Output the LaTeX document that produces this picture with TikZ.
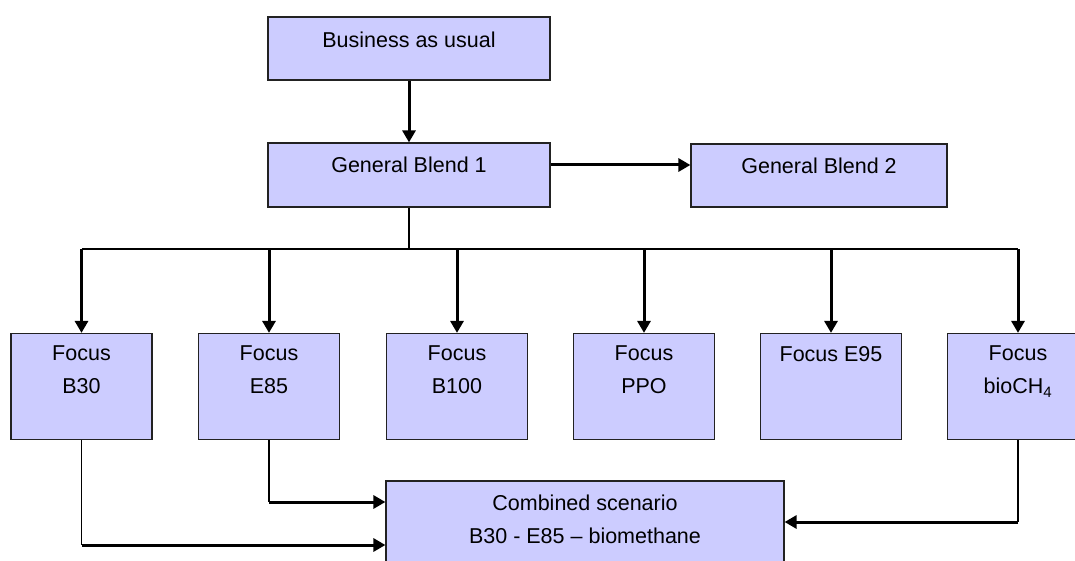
\documentclass[tikz,border=0pt]{standalone}
\usepackage{fontspec}
\setmainfont{Liberation Sans}
\usetikzlibrary{arrows.meta,calc}
\definecolor{boxfill}{HTML}{CCCCFF}
\definecolor{edgec}{HTML}{222222}
\begin{document}
\begin{tikzpicture}[x=1pt,y=-1pt,
  box/.style={draw=edgec,line width=1.2pt,fill=boxfill,inner sep=0pt},
  wide/.style={box,minimum width=282pt,minimum height=63pt},
  focusbox/.style={box,minimum width=141pt,minimum height=106pt},
  txt/.style={anchor=north,inner sep=0pt,align=center,font=\fontsize{21.5}{33}\selectfont},
  thinline/.style={line width=1.1pt},
  arr/.style={line width=3pt,-{Triangle[length=12pt,width=13pt]}}
]
\useasboundingbox (0,0) rectangle (1075,561);
% boxes
\node[wide] (bau) at (409,48.5) {};
\node[wide,minimum height=64pt] (gb1) at (409,175) {};
\node[box,minimum width=256pt,minimum height=63pt] (gb2) at (819,175.5) {};
\node[focusbox] (b30) at (81.5,386.5) {};
\node[focusbox] (e85) at (269,386.5) {};
\node[focusbox] (b100) at (457,386.5) {};
\node[focusbox] (ppo) at (644,386.5) {};
\node[focusbox] (e95) at (831,386.5) {};
\node[focusbox] (bio) at (1018,386.5) {};
\node[box,minimum width=398pt,minimum height=100pt] (comb) at (585,531) {};
% texts
\node[txt] (tbau) at ($(bau.north)+(0,15)$) {Business as usual};
\node[txt] (tgb1) at ($(gb1.north)+(0,14)$) {General Blend 1};
\node[txt] (tgb2) at ($(gb2.north)+(0,14)$) {General Blend 2};
\node[txt] (tb30) at ($(b30.north)+(0,13)$) {Focus\\B30};
\node[txt] (te85) at ($(e85.north)+(0,13)$) {Focus\\E85};
\node[txt] (tb100) at ($(b100.north)+(0,13)$) {Focus\\B100};
\node[txt] (tppo) at ($(ppo.north)+(0,13)$) {Focus\\PPO};
\node[txt] (te95) at ($(e95.north)+(0,13)$) {Focus E95};
\node[txt] (tbio) at ($(bio.north)+(0,13)$) {Focus\\bioCH\textsubscript{4}};
\node[txt] (tcomb) at ($(comb.north)+(0,14)$) {Combined scenario\\B30 - E85 – biomethane};
% connectors
\coordinate (bus) at (409,249);
\draw[arr] (bau) -- (gb1);
\draw[arr] (gb1.east |- 0,165) -- (gb2.west |- 0,165);
\draw[thinline] (gb1.south) -- (bus);
\draw[thinline] (b30.north |- bus) -- (bio.north |- bus);
\foreach \n in {b30,e85,b100,ppo,e95,bio}{
  \draw[arr] (\n.north |- bus) -- (\n.north);
}
\coordinate (ce) at (269,502);
\coordinate (cb) at (81.5,545);
\coordinate (cbio) at (1018,522);
\draw[thinline] (e85.south) -- (ce);
\draw[arr] (ce) -- (comb.west |- ce);
\draw[thinline] (b30.south) -- (cb);
\draw[arr] (cb) -- (comb.west |- cb);
\draw[thinline] (bio.south) -- (cbio);
\draw[arr] (cbio) -- (comb.east |- cbio);
\end{tikzpicture}
\end{document}
